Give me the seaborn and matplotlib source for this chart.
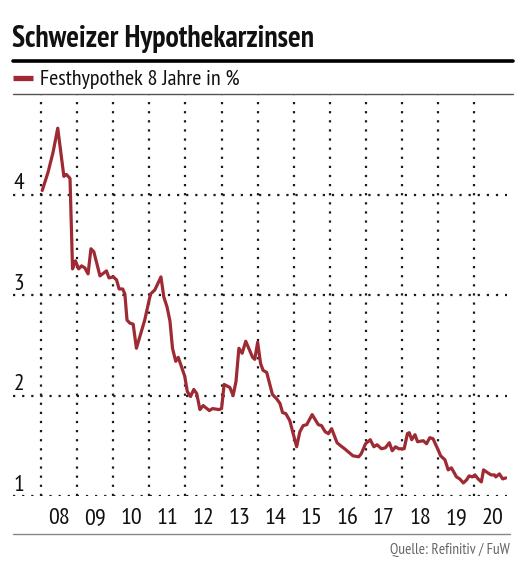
import pandas as pd
import matplotlib
matplotlib.use("Agg")
import matplotlib.pyplot as plt
import seaborn as sns
from matplotlib.lines import Line2D

# Festhypothek 8 Jahre, decimal year vs. rate in %
years = [
    2008.03, 2008.19, 2008.33, 2008.46, 2008.63, 2008.70, 2008.80, 2008.87, 2008.95,
    2009.04, 2009.12, 2009.21, 2009.30, 2009.38, 2009.46, 2009.63, 2009.81, 2009.88,
    2010.00, 2010.09, 2010.16, 2010.26, 2010.32, 2010.38, 2010.46, 2010.55, 2010.64, 2010.87,
    2011.03, 2011.15, 2011.32, 2011.40, 2011.49, 2011.57, 2011.64, 2011.73, 2011.80, 2011.98,
    2012.05, 2012.14, 2012.23, 2012.31, 2012.40, 2012.49, 2012.66, 2012.75, 2012.93,
    2013.00, 2013.07, 2013.23, 2013.32, 2013.40, 2013.48, 2013.57, 2013.67, 2013.86, 2013.92,
    2014.00, 2014.08, 2014.15, 2014.25, 2014.41, 2014.52, 2014.62, 2014.69, 2014.78, 2014.89,
    2015.08, 2015.17, 2015.26, 2015.36, 2015.51, 2015.68, 2015.77, 2015.87, 2015.96,
    2016.05, 2016.20, 2016.30, 2016.41, 2016.64, 2016.80, 2016.87, 2016.99,
    2017.12, 2017.22, 2017.31, 2017.43, 2017.54, 2017.65, 2017.73, 2017.82, 2017.91,
    2018.06, 2018.15, 2018.20, 2018.27, 2018.36, 2018.43, 2018.59, 2018.68, 2018.77, 2018.86,
    2019.00, 2019.07, 2019.19, 2019.28, 2019.37, 2019.51, 2019.60, 2019.70, 2019.79, 2019.86, 2019.95,
    2020.02, 2020.11, 2020.20, 2020.26, 2020.38, 2020.47, 2020.56, 2020.60, 2020.70, 2020.79, 2020.88,
]
rates = [
    4.04, 4.22, 4.42, 4.66, 4.18, 4.20, 4.16, 3.26, 3.34,
    3.26, 3.29, 3.27, 3.21, 3.46, 3.43, 3.19, 3.24, 3.17,
    3.18, 3.15, 3.06, 3.06, 3.01, 2.75, 2.72, 2.71, 2.47, 2.75,
    3.01, 3.05, 3.18, 2.98, 2.88, 2.74, 2.47, 2.34, 2.38, 2.19,
    2.04, 1.99, 2.06, 2.02, 1.86, 1.90, 1.85, 1.87, 1.86,
    1.87, 2.11, 2.08, 2.00, 2.14, 2.47, 2.42, 2.54, 2.38, 2.36,
    2.53, 2.32, 2.25, 2.23, 2.01, 1.97, 1.92, 1.83, 1.82, 1.75,
    1.49, 1.64, 1.70, 1.71, 1.81, 1.71, 1.70, 1.64, 1.62,
    1.67, 1.53, 1.50, 1.47, 1.40, 1.39, 1.42, 1.52,
    1.56, 1.49, 1.51, 1.47, 1.48, 1.53, 1.45, 1.49, 1.47,
    1.47, 1.62, 1.63, 1.56, 1.61, 1.54, 1.55, 1.52, 1.58, 1.57,
    1.46, 1.40, 1.36, 1.26, 1.28, 1.19, 1.17, 1.13, 1.16, 1.20, 1.19,
    1.21, 1.17, 1.14, 1.26, 1.23, 1.21, 1.21, 1.19, 1.22, 1.17, 1.18,
]
year_labels = ["08", "09", "10", "11", "12", "13", "14", "15", "16", "17", "18", "19", "20"]
y_ticks = [1, 2, 3, 4]

RED = "#9e2a33"
W, H = 526, 571

sns.set_theme(style="white")
plt.rcParams["font.family"] = ["PT Sans Narrow", "DejaVu Sans"]

df = pd.DataFrame({"year": years, "rate": rates})

fig = plt.figure(figsize=(W / 100, H / 100), dpi=100)
ax = fig.add_axes([13 / W, 1 - 496 / H, (507 - 13) / W, (496 - 94) / H])

sns.lineplot(data=df, x="year", y="rate", color=RED, linewidth=2.3, ax=ax, zorder=3)

ax.set_xlim(2007.22, 2020.91)
ax.set_ylim(1, 5)
for s in ax.spines.values():
    s.set_visible(False)

dots = dict(color="#1a1a1a", linewidth=1.6, linestyle=(0, (1, 3.1)), dash_capstyle="butt", zorder=1)
first = 2008
for i in range(len(year_labels)):
    ax.axvline(first + i, **dots)
for v in y_ticks:
    ax.axhline(v, **dots)
    ax.text(2007.24, v + 0.05, str(v), fontsize=17, color="#111111", ha="left", va="baseline")

ax.set_xticks([first + i + 0.5 for i in range(len(year_labels))])
ax.set_xticklabels(year_labels, fontsize=17.5, color="#111111")
ax.tick_params(axis="x", length=0, pad=9)
ax.set_yticks([])
ax.set_xlabel("")
ax.set_ylabel("")


def fx(x):
    return x / W


def fy(y):
    return 1 - y / H


fig.text(fx(12), fy(47), "Schweizer Hypothekarzinsen", fontsize=21.3, fontweight="bold",
         color="#111111", ha="left", va="baseline")
fig.add_artist(Line2D([fx(13), fx(513)], [fy(61), fy(61)], color="black", linewidth=2.6))
fig.add_artist(Line2D([fx(13), fx(33)], [fy(77.5), fy(77.5)], color=RED, linewidth=3.8,
                      solid_capstyle="butt"))
fig.text(fx(40), fy(85), "Festhypothek 8 Jahre in %", fontsize=16, color="#111111",
         ha="left", va="baseline")
fig.add_artist(Line2D([fx(13), fx(513)], [fy(93.5), fy(93.5)], color="#555555", linewidth=1.0))
fig.add_artist(Line2D([fx(13), fx(510)], [fy(534), fy(534)], color="#888888", linewidth=1.0))
fig.text(fx(510), fy(554), "Quelle: Refinitiv / FuW", fontsize=11, color="#666666",
         ha="right", va="baseline")

fig.savefig("out.png", dpi=100)
